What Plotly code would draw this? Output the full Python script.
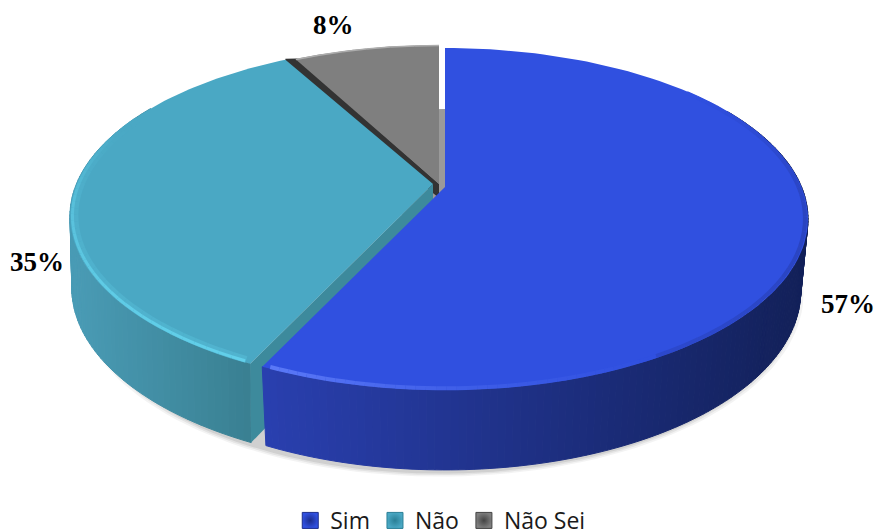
import numpy as np
import plotly.graph_objects as go

categories = ["Sim", "Não", "Não Sei"]
values = [57, 35, 8]

TOP = {"Sim": "#3050E0", "Não": "#4AA8C4", "Não Sei": "#7F7F7F"}
TOP_RGB = {"Sim": (48, 80, 224), "Não": (74, 168, 196), "Não Sei": (127, 127, 127)}
WALL_L = {"Sim": (42, 64, 176), "Não": (74, 156, 182), "Não Sei": (154, 154, 154)}
WALL_R = {"Sim": (19, 33, 90), "Não": (58, 128, 146), "Não Sei": (154, 154, 154)}
LEGEND_EDGE = {"Sim": "#1B2C8C", "Não": "#2A7F96", "Não Sei": "#444444"}
SHIFT = {"Sim": (445, 187), "Não": (433, 184), "Não Sei": (439, 184)}
LOW_X = {"Sim": 0.98, "Não": 0.995, "Não Sei": 0.975}
GRAY_GAP_DEG = 0.8

RX, K = 356.6, 0.187
TOP_B, LOW_B, LOW_DY = 165.0, 172.7, 70.5


def top_pt(name, th):
    ax, ay = SHIFT[name]
    r = np.radians(th)
    u, v = np.sin(r), np.cos(r)
    d = 1 + K * v
    return ax + RX * u / d, ay - TOP_B * v / d


def low_pt(name, th):
    ax, ay = SHIFT[name]
    r = np.radians(th)
    u, v = np.sin(r), np.cos(r)
    d = 1 + K * v
    return ax + RX * LOW_X[name] * u / d, ay + LOW_DY - LOW_B * v / d


cum = np.cumsum([0] + values) / sum(values) * 360
SPAN = {c: (cum[i], cum[i + 1]) for i, c in enumerate(categories)}

fig = go.Figure()


def poly(xs, ys, color, line=None):
    fig.add_trace(go.Scatter(
        x=list(xs), y=list(ys), mode="lines", fill="toself", fillcolor=color,
        line=dict(color=line or color, width=1 if line else 0),
        hoverinfo="skip", showlegend=False))


def wedge(name, fn=top_pt, start_pad=0.0):
    a, b = SPAN[name]
    ts = np.linspace(a + start_pad, b, 120)
    px, py = fn(name, ts)
    if fn is top_pt:
        ax, ay = SHIFT[name]
    else:
        ax, ay = SHIFT[name][0], SHIFT[name][1] + LOW_DY
    return [ax, *px, ax], [ay, *py, ay]


def wall(name, a, b, n):
    edges = np.linspace(a, b, n + 1)
    for t0, t1 in zip(edges[:-1], edges[1:]):
        x0, y0 = top_pt(name, t0)
        x1, y1 = top_pt(name, t1)
        x2, y2 = low_pt(name, t1)
        x3, y3 = low_pt(name, t0)
        if name == "Não":
            f = np.clip(((x0 + x1) / 2 - 70) / 180, 0, 1)
        else:
            f = np.clip(((x0 + x1) / 2 - 260) / 540, 0, 1)
        l, r = WALL_L[name], WALL_R[name]
        c = "rgb(%d,%d,%d)" % tuple(l[i] + (r[i] - l[i]) * f for i in range(3))
        poly([x0, x1, x2, x3, x0], [y0, y1, y2, y3, y0], c, c)


def rim(name, a, b, rgb, width, stops, n=40):
    """Inset stroke along the rim; `stops` gives the colour mix along the arc."""
    edges = np.linspace(a, b, n + 1)
    base = TOP_RGB[name]
    inset = 1 - (width / 2 + 0.5) / 300
    ax, ay = SHIFT[name]
    pos = np.linspace(0, 1, len(stops))
    for i, (t0, t1) in enumerate(zip(edges[:-1], edges[1:])):
        m = float(np.interp(i / (n - 1), pos, stops))
        c = tuple(base[j] + (rgb[j] - base[j]) * m for j in range(3))
        ts = np.linspace(t0, t1, 5)
        px, py = top_pt(name, ts)
        fig.add_trace(go.Scatter(
            x=ax + (px - ax) * inset, y=ay + (py - ay) * inset, mode="lines",
            line=dict(color="rgb(%d,%d,%d)" % c, width=width),
            hoverinfo="skip", showlegend=False))


# soft shadow behind the lower edge
for grow, al in [(1.022, 0.07), (1.015, 0.10), (1.008, 0.14)]:
    ts = np.linspace(0, 360, 180)
    ax, ay = 440, 187 + LOW_DY
    px, py = low_pt("Sim", ts)
    poly(ax + (px - 445) * grow, ay + (py - ay) * grow + 2, f"rgba(90,90,90,{al})")

# Não Sei
gx, gy = wedge("Não Sei", low_pt)
poly(np.array(gx) + 7, gy, "#9A9A9A")
a, b = SPAN["Não Sei"]
rx0, ry0 = top_pt("Não Sei", a)
rx1, ry1 = top_pt("Não Sei", a + GRAY_GAP_DEG + 0.4)
ax0, ay0 = SHIFT["Não Sei"]
poly([ax0, rx1, rx0 - 6, rx0 - 6, ax0, ax0],
     [ay0, ry1, ry0 - 1, ry0 + 12, ay0 + 14, ay0], "#333333")
poly(*wedge("Não Sei", start_pad=GRAY_GAP_DEG), TOP["Não Sei"])
rim("Não Sei", a + GRAY_GAP_DEG, b, (178, 178, 178), 1.5, [0.9, 0.9], n=6)

# Não
a, b = SPAN["Não"]
wall("Não", a, min(b, 300), 80)
cx0, cy0 = top_pt("Não", a)
lx0, ly0 = low_pt("Não", a)
ax1, ay1 = SHIFT["Não"]
poly([ax1, cx0, lx0, ax1, ax1], [ay1, cy0, ly0, ay1 + LOW_DY, ay1], "#3D8A9C")
poly(*wedge("Não"), TOP["Não"])
rim("Não", a + 1, 295, (98, 208, 234), 7, [0.3, 0.25, 0.2, 0.0])
rim("Não", a + 1, 292, (98, 208, 234), 3, [1.0, 0.9, 0.6, 0.0])

# Sim
a, b = SPAN["Sim"]
wall("Sim", 60, b, 140)
poly(*wedge("Sim"), TOP["Sim"])
rim("Sim", 50, 150, (36, 56, 160), 4, [0.0, 0.5, 0.3])
rim("Sim", 150, b - 1, (95, 125, 250), 4, [0.0, 0.3, 0.9])

# legend entries
for c in categories:
    fig.add_trace(go.Scatter(
        x=[None], y=[None], mode="markers", name=c,
        marker=dict(symbol="square", size=16, color=TOP[c],
                    gradient=dict(type="radial", color=LEGEND_EDGE[c]),
                    line=dict(color=LEGEND_EDGE[c], width=1)),
        hoverinfo="skip"))

# value labels
label_pos = {"Sim": (848, 304), "Não": (37, 262), "Não Sei": (333, 25)}
annotations = [
    dict(x=label_pos[c][0], y=label_pos[c][1], xref="x", yref="y",
         text=f"<b>{v}%</b>", showarrow=False,
         font=dict(family="Liberation Serif", size=27, color="#000000"))
    for c, v in zip(categories, values)
]

fig.update_layout(
    width=877, height=530,
    margin=dict(l=0, r=0, t=0, b=0, autoexpand=False),
    paper_bgcolor="white", plot_bgcolor="white",
    xaxis=dict(range=[0, 877], visible=False, fixedrange=True),
    yaxis=dict(range=[530, 0], visible=False, fixedrange=True),
    annotations=annotations,
    showlegend=True,
    legend=dict(orientation="h", xref="paper", yref="paper",
                x=0.502, xanchor="center", y=0.018, yanchor="middle",
                font=dict(family="Open Sans", size=23, color="#1a1a1a"),
                bgcolor="rgba(0,0,0,0)", itemclick=False, itemdoubleclick=False),
)
fig.write_html("out.html", config={"displayModeBar": False},
               default_width="877px", default_height="530px",
               post_script="document.body.style.margin='0';")
